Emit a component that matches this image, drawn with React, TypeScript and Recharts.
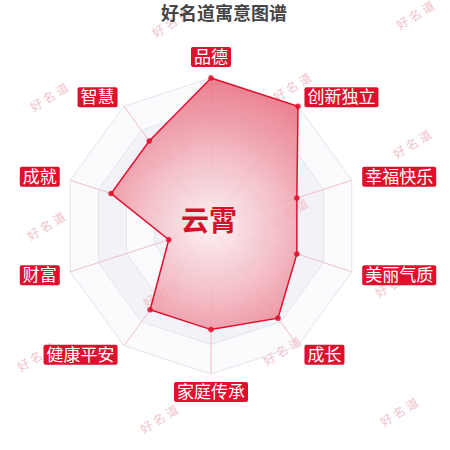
import React from 'react';
import { RadarChart, Radar, PolarGrid, PolarAngleAxis, PolarRadiusAxis } from 'recharts';

const categories = ['品德', '创新独立', '幸福快乐', '美丽气质', '成长', '家庭传承', '健康平安', '财富', '成就', '智慧'];
const scores = [100, 100, 61, 61, 77, 70, 70, 30, 71, 71];
const title = '好名道寓意图谱';
const centerName = '云霄';
const watermarkText = '好名道';

const data = categories.map((name, i) => ({ name, value: scores[i] }));

const CX = 211;
const CY = 226;
const R = 148;
const LABEL_R = R + 11;
const RED = '#e0102d';
const FONT = '"Noto Sans CJK SC", "Noto Sans", sans-serif';

// faint repeated watermark stamps (decoration only)
const stamps = [
  [172, 22], [416, 14], [50, 96], [293, 86], [413, 143], [170, 155],
  [47, 225], [290, 212], [395, 282], [163, 292], [37, 356], [283, 350],
  [160, 418], [400, 411],
];

// label box around each angle tick
function LabelTick(props: any) {
  const { payload } = props;
  const rad = (payload.coordinate * Math.PI) / 180;
  const c = Math.cos(rad);
  const s = Math.sin(rad);
  const x = CX + LABEL_R * c;
  const y = CY - LABEL_R * s;
  const text = String(payload.value);
  const w = text.length * 17 + 6;
  const h = 20;
  const left = Math.abs(c) < 0.01 ? x - w / 2 : c > 0 ? x : x - w;
  const top = Math.abs(c) < 0.01 ? (s > 0 ? y - h : y - 3) : y - h / 2;
  return (
    <g>
      <rect x={left} y={top} width={w} height={h} rx={2} fill={RED} />
      <text
        x={left + w / 2}
        y={top + h / 2}
        dy="0.36em"
        textAnchor="middle"
        fill="#fff"
        fontSize={17}
        fontFamily={FONT}
      >
        {text}
      </text>
    </g>
  );
}

// alternating band fills behind the grid
function Bands() {
  const n = categories.length;
  const poly = (r: number) =>
    categories
      .map((_, i) => {
        const a = ((90 - (360 / n) * i) * Math.PI) / 180;
        return `${CX + r * Math.cos(a)},${CY - r * Math.sin(a)}`;
      })
      .join(' ');
  const levels = [1, 0.8, 0.6, 0.4, 0.2];
  return (
    <svg width={450} height={450} style={{ position: 'absolute', left: 0, top: 0 }}>
      {levels.map((l, i) => (
        <polygon key={l} points={poly(R * l)} fill={i % 2 === 0 ? '#fbfbfd' : '#f2f2f8'} stroke="none" />
      ))}
    </svg>
  );
}

export default function App() {
  return (
    <div style={{ position: 'absolute', left: 0, top: 0, width: 450, height: 450, background: '#fff', fontFamily: FONT }}>
      <Bands />
      {stamps.map(([x, y], i) => (
        <div
          key={i}
          style={{
            position: 'absolute',
            left: x - 30,
            top: y - 9,
            width: 60,
            textAlign: 'center',
            fontSize: 12,
            letterSpacing: 3,
            color: '#f0c4ca',
            transform: 'rotate(-32deg)',
            whiteSpace: 'nowrap',
          }}
        >
          {watermarkText}
        </div>
      ))}
      <div
        style={{
          position: 'absolute',
          left: 0,
          top: 2,
          width: 448,
          textAlign: 'center',
          fontSize: 18,
          fontWeight: 'bold',
          color: '#454545',
          lineHeight: '20px',
        }}
      >
        {title}
      </div>
      <div style={{ position: 'absolute', left: 0, top: 0 }}>
        <RadarChart
          width={450}
          height={450}
          data={data}
          cx={CX}
          cy={CY}
          outerRadius={R}
          margin={{ top: 0, right: 0, bottom: 0, left: 0 }}
        >
          <defs>
            <radialGradient id="nameFill" gradientUnits="userSpaceOnUse" cx={CX} cy={CY} r={R}>
              <stop offset="0%" stopColor="#fdf0f2" />
              <stop offset="35%" stopColor="#f5c5cc" />
              <stop offset="100%" stopColor="#e8687c" />
            </radialGradient>
          </defs>
          <PolarGrid gridType="polygon" radialLines={false} stroke="#e4e4ee" />
          <PolarGrid gridType="polygon" polarRadius={[0]} stroke="#f2c0c8" />
          <PolarRadiusAxis domain={[0, 100]} tick={false} axisLine={false} tickCount={6} />
          <PolarAngleAxis dataKey="name" tick={<LabelTick />} tickLine={false} axisLine={false} />
          <Radar
            dataKey="value"
            stroke={RED}
            strokeWidth={1.5}
            fill="url(#nameFill)"
            fillOpacity={0.85}
            dot={{ r: 2.5, fill: RED, stroke: RED, strokeWidth: 0.5 }}
            isAnimationActive={false}
          />
        </RadarChart>
      </div>
      <div
        style={{
          position: 'absolute',
          left: 159,
          top: 201,
          width: 100,
          textAlign: 'center',
          fontSize: 28,
          fontWeight: 'bold',
          color: '#d80f2b',
          lineHeight: '36px',
        }}
      >
        {centerName}
      </div>
    </div>
  );
}
